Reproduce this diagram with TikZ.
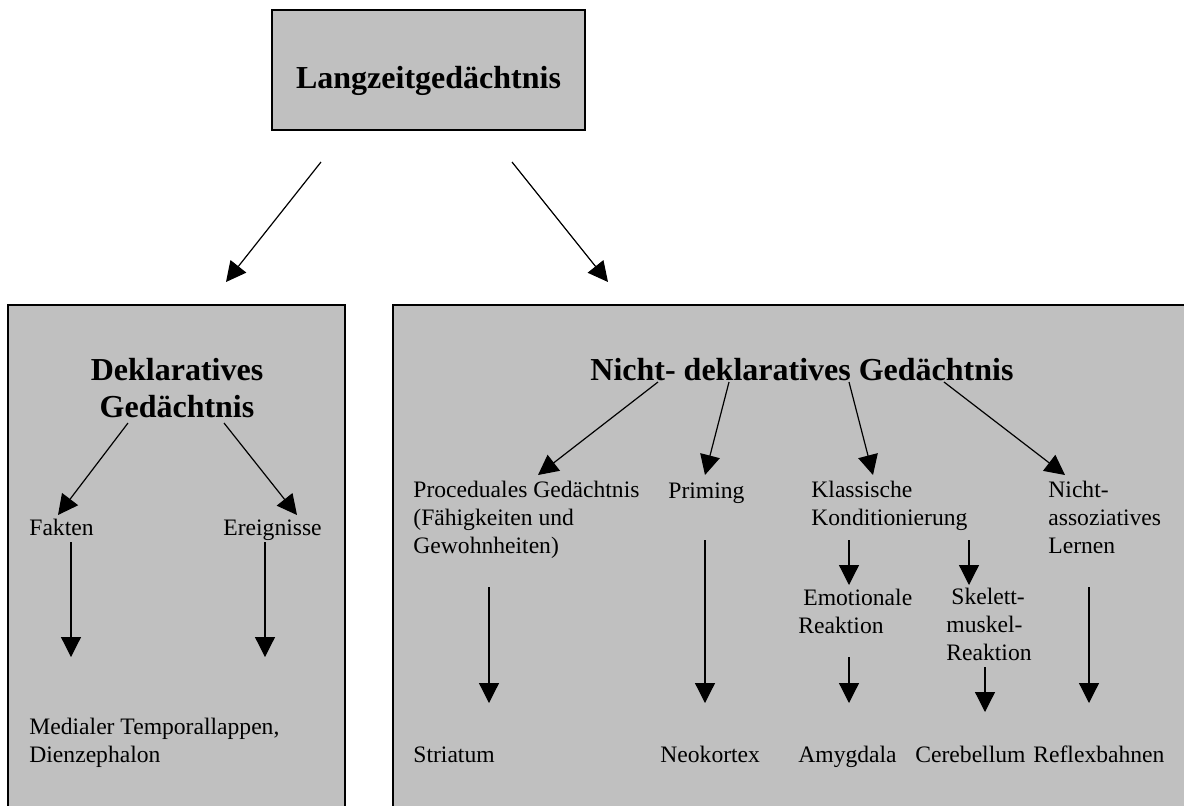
\documentclass[tikz,border=0pt]{standalone}
\usepackage{fontspec}
\setmainfont{Liberation Serif}
\usetikzlibrary{arrows.meta}
\definecolor{boxgrau}{RGB}{192,192,192}
\tikzset{
  kasten/.style={draw=black, line width=1pt, fill=boxgrau},
  titel/.style={font=\bfseries\fontsize{16}{18.5}\selectfont, inner sep=0pt, align=center, anchor=base},
  eintrag/.style={font=\fontsize{11.8}{13.8}\selectfont, inner sep=0pt, align=left, anchor=base west},
  pfeil/.style={line width=0.6pt, -{Triangle[length=10pt,width=10pt]}},
}

\begin{document}
\begin{tikzpicture}[x=0.5pt,y=-0.5pt]
    \useasboundingbox (0,0) rectangle (1184,805);
    \clip (0,0) rectangle (1184,805);
    % Kaesten
    \draw[kasten] (272,10) rectangle (585,130);
    \draw[kasten] (8,305) rectangle (345,830);
    \draw[kasten] (393,305) rectangle (1200,830);
    % Ueberschriften (mehrzeilig: Grundlinie der letzten Zeile)
    \node[titel] (ltm) at (428.5,88) {Langzeitgedächtnis};
    \node[titel] (dekl) at (177,417) {Deklaratives\\Gedächtnis};
    \node[titel, anchor=base west] (nichtdekl) at (590,380) {Nicht- deklaratives Gedächtnis};
    % deklarativ
    \node[eintrag] (fakten) at (29,535) {Fakten};
    \node[eintrag] (ereig) at (223,535) {Ereignisse};
    \node[eintrag] (mtl) at (29,762) {Medialer Temporallappen,\\Dienzephalon};
    % nicht-deklarativ
    \node[eintrag] (proz) at (413,553) {Proceduales Gedächtnis\\(Fähigkeiten und\\Gewohnheiten)};
    \node[eintrag] (priming) at (668,498) {Priming};
    \node[eintrag] (klass) at (811,525) {Klassische\\Konditionierung};
    \node[eintrag] (nichtass) at (1048,553) {Nicht-\\assoziatives\\Lernen};
    \node[eintrag] (emo) at (798,633) {\hspace{2.5pt}Emotionale\\Reaktion};
    \node[eintrag] (skel) at (946,660) {\hspace{2.5pt}Skelett-\\muskel-\\Reaktion};
    \node[eintrag] (striatum) at (413,762) {Striatum};
    \node[eintrag] (neokortex) at (660,762) {Neokortex};
    \node[eintrag] (amygdala) at (798,762) {Amygdala};
    \node[eintrag] (cerebellum) at (915,762) {Cerebellum};
    \node[eintrag] (reflex) at (1033,762) {Reflexbahnen};
    % Pfeilenden
    \coordinate (ltm-l) at (321,162);
    \coordinate (ltm-r) at (512,162);
    \coordinate (dekl-kopf) at (226,282);
    \coordinate (nd-kopf) at (608,282);
    \coordinate (dekl-l) at (128,423);
    \coordinate (dekl-r) at (224,423);
    \coordinate (fakten-o) at (58,515);
    \coordinate (ereig-o) at (297,515);
    \coordinate (fakten-u) at (71,542);
    \coordinate (fakten-z) at (71,657);
    \coordinate (ereig-u) at (265,542);
    \coordinate (ereig-z) at (265,657);
    \coordinate (nd-1) at (658,382);
    \coordinate (nd-2) at (729,382);
    \coordinate (nd-3) at (849,382);
    \coordinate (nd-4) at (944,382);
    \coordinate (proz-o) at (538,475);
    \coordinate (priming-o) at (705,475);
    \coordinate (klass-o) at (873,475);
    \coordinate (nichtass-o) at (1065,475);
    \coordinate (proz-u) at (489,587);
    \coordinate (proz-z) at (489,703);
    \coordinate (priming-u) at (705,540);
    \coordinate (priming-z) at (705,703);
    \coordinate (klass-u1) at (849,540);
    \coordinate (emo-o) at (849,585);
    \coordinate (klass-u2) at (969,540);
    \coordinate (skel-o) at (969,585);
    \coordinate (emo-u) at (849,657);
    \coordinate (emo-z) at (849,703);
    \coordinate (skel-u) at (985,667);
    \coordinate (skel-z) at (985,712);
    \coordinate (nichtass-u) at (1089,587);
    \coordinate (nichtass-z) at (1089,703);
    % Pfeile
    \draw[pfeil] (ltm-l) -- (dekl-kopf);
    \draw[pfeil] (ltm-r) -- (nd-kopf);
    \draw[pfeil] (dekl-l) -- (fakten-o);
    \draw[pfeil] (dekl-r) -- (ereig-o);
    \draw[pfeil] (fakten-u) -- (fakten-z);
    \draw[pfeil] (ereig-u) -- (ereig-z);
    \draw[pfeil] (nd-1) -- (proz-o);
    \draw[pfeil] (nd-2) -- (priming-o);
    \draw[pfeil] (nd-3) -- (klass-o);
    \draw[pfeil] (nd-4) -- (nichtass-o);
    \draw[pfeil] (proz-u) -- (proz-z);
    \draw[pfeil] (priming-u) -- (priming-z);
    \draw[pfeil] (klass-u1) -- (emo-o);
    \draw[pfeil] (klass-u2) -- (skel-o);
    \draw[pfeil] (emo-u) -- (emo-z);
    \draw[pfeil] (skel-u) -- (skel-z);
    \draw[pfeil] (nichtass-u) -- (nichtass-z);
\end{tikzpicture}
\end{document}
